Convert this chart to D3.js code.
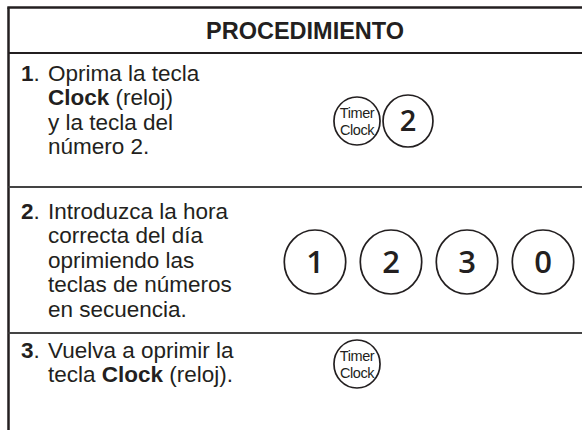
<!DOCTYPE html>
<html>
<head>
<meta charset="utf-8">
<script src="https://cdn.jsdelivr.net/npm/d3@7"></script>
<style>
  html, body { margin: 0; padding: 0; background: #fff; }
  svg { display: block; }
</style>
</head>
<body>
<svg id="chart" width="582" height="430"></svg>
<script>
// ---- content ----
const headerTitle = "PROCEDIMIENTO";
const stepNumbers = ["1", "2", "3"];
const stepLines = [
  ["Oprima la tecla", "**Clock** (reloj)", "y la tecla del", "número 2."],
  ["Introduzca la hora", "correcta del día", "oprimiendo las", "teclas de números", "en secuencia."],
  ["Vuelva a oprimir la", "tecla **Clock** (reloj)."]
];
const stepKeys = [
  ["Timer|Clock", "2"],
  ["1", "2", "3", "0"],
  ["Timer|Clock"]
];

// ---- layout ----
const W = 582, H = 430;
const svg = d3.select("#chart");
const ink = "#231f20";

const tableLeft = 8.5, tableTop = 7.5;
const rowBounds = [53, 187, 333];        // header bottom and row separators
const firstBase = [81, 219, 358];         // first text baseline of each step
const lineGap = 24.4;
const numX = 21, textX = 48;
const bodySize = 22.5;
const fontBody = "'Liberation Sans', Arial, Helvetica, sans-serif";
const fontKey = "'Open Sans', 'Noto Sans', sans-serif";

// key placement per step: centres, radius, vertical centre
const keyCx = [[357, 408], [315, 391, 467, 543], [357]];
const keyCy = [121, 262, 364];
const keyR = [[24, 26], [32, 32, 32, 32], [24]];

// borders
svg.append("line").attr("x1", tableLeft - 1.2).attr("x2", W).attr("y1", tableTop).attr("y2", tableTop)
  .attr("stroke", ink).attr("stroke-width", 2.5);
svg.append("line").attr("x1", tableLeft).attr("x2", tableLeft).attr("y1", tableTop).attr("y2", H)
  .attr("stroke", ink).attr("stroke-width", 2.5);
svg.selectAll("line.sep").data(rowBounds).join("line").attr("class", "sep")
  .attr("x1", tableLeft).attr("x2", W).attr("y1", d => d).attr("y2", d => d)
  .attr("stroke", (d, i) => i === 0 ? ink : "#444").attr("stroke-width", 2);

// header
svg.append("text").attr("x", 305).attr("y", 39).attr("text-anchor", "middle")
  .attr("font-family", fontBody).attr("font-weight", "bold").attr("font-size", 23.5)
  .attr("fill", ink).text(headerTitle);

// steps
stepLines.forEach((lines, si) => {
  const g = svg.append("g");
  const base0 = firstBase[si];
  g.append("text").attr("x", numX).attr("y", base0)
    .attr("font-family", fontBody).attr("font-size", bodySize).attr("fill", ink)
    .call(t => { t.append("tspan").attr("font-weight", "bold").text(stepNumbers[si]); t.append("tspan").text("."); });
  lines.forEach((ln, li) => {
    const t = g.append("text").attr("x", textX).attr("y", base0 + li * lineGap)
      .attr("font-family", fontBody).attr("font-size", bodySize).attr("fill", ink)
      .attr("xml:space", "preserve");
    ln.split(/(\*\*[^*]+\*\*)/).filter(s => s.length).forEach(part => {
      if (part.startsWith("**")) t.append("tspan").attr("font-weight", "bold").text(part.slice(2, -2));
      else t.append("tspan").text(part);
    });
  });
  // keys
  stepKeys[si].forEach((k, ki) => {
    const cx = keyCx[si][ki], cy = keyCy[si], r = keyR[si][ki];
    const kg = g.append("g").attr("transform", `translate(${cx},${cy})`);
    const isTimer = k.includes("|");
    kg.append("ellipse").attr("rx", r * 0.96).attr("ry", r).attr("fill", "#fff")
      .attr("stroke", ink).attr("stroke-width", 1.7);
    if (isTimer) {
      const [a, b] = k.split("|");
      const t = kg.append("text").attr("text-anchor", "middle").attr("font-family", fontBody)
        .attr("font-size", 14.5).attr("letter-spacing", -0.4).attr("fill", ink);
      t.append("tspan").attr("x", 0).attr("y", -3.5).text(a);
      t.append("tspan").attr("x", 0).attr("y", 13.5).text(b);
    } else {
      const fs = r > 28 ? 31 : 29;
      kg.append("text").attr("y", fs * 0.36).attr("text-anchor", "middle").attr("font-family", fontKey)
        .attr("font-weight", 600).attr("font-size", fs).attr("fill", ink).text(k);
    }
  });
});
</script>
</body>
</html>
